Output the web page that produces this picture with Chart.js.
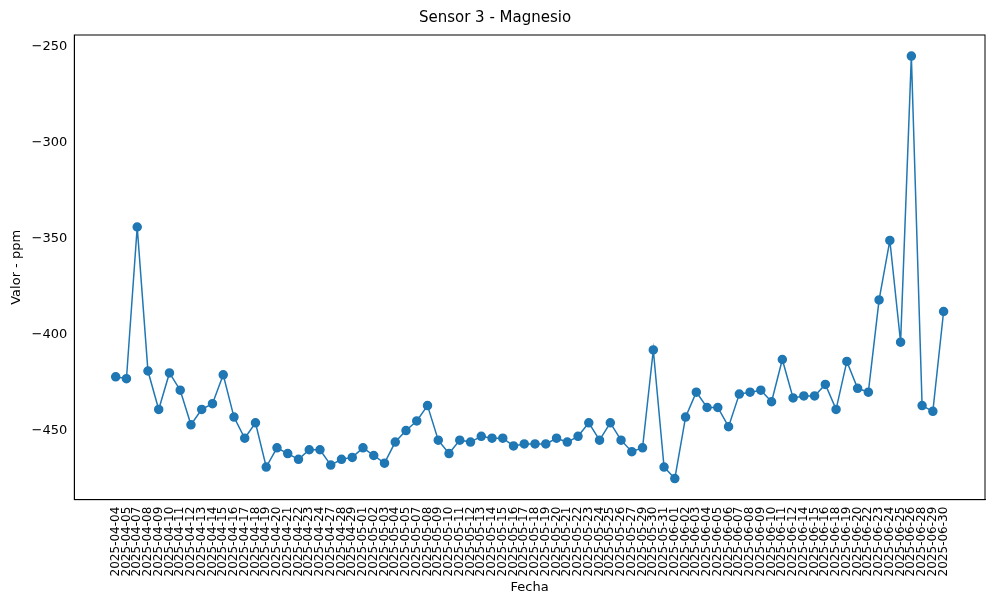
<!DOCTYPE html>
<html>
<head>
<meta charset="utf-8">
<script src="https://cdn.jsdelivr.net/npm/chart.js@4"></script>
<style>
  html, body { margin: 0; padding: 0; background: #fff; }
  #wrap { width: 1000px; height: 600px; }
</style>
</head>
<body>
<div id="wrap"><canvas id="chart" width="1000" height="600"></canvas></div>
<script>
// Data
const fechas = [
    '2025-04-04','2025-04-05','2025-04-07','2025-04-08','2025-04-09','2025-04-10','2025-04-11','2025-04-12',
    '2025-04-13','2025-04-14','2025-04-15','2025-04-16','2025-04-17','2025-04-18','2025-04-19','2025-04-20',
    '2025-04-21','2025-04-22','2025-04-23','2025-04-24','2025-04-27','2025-04-28','2025-04-29',
    '2025-05-01','2025-05-02','2025-05-03','2025-05-04','2025-05-05','2025-05-07','2025-05-08','2025-05-09',
    '2025-05-10','2025-05-11','2025-05-12','2025-05-13','2025-05-14','2025-05-15','2025-05-16','2025-05-17',
    '2025-05-18','2025-05-19','2025-05-20','2025-05-21','2025-05-22','2025-05-23','2025-05-24','2025-05-25',
    '2025-05-26','2025-05-27','2025-05-29','2025-05-30','2025-05-31','2025-06-01','2025-06-02','2025-06-03',
    '2025-06-04','2025-06-05','2025-06-06','2025-06-07','2025-06-08','2025-06-09','2025-06-10','2025-06-11',
    '2025-06-12','2025-06-14','2025-06-15','2025-06-16','2025-06-18','2025-06-19','2025-06-20','2025-06-22',
    '2025-06-23','2025-06-24','2025-06-25','2025-06-26','2025-06-28','2025-06-29','2025-06-30'
];
const valores = [
    -422, -423, -344, -419, -439, -420, -429, -447, -439, -436, -421, -443, -454, -446, -469, -459,
    -462, -465, -460, -460, -468, -465, -464, -459, -463, -467, -456, -450, -445, -437, -455, -462,
    -455, -456, -453, -454, -454, -458, -457, -457, -457, -454, -456, -453, -446, -455, -446, -455,
    -461, -459, -408, -469, -475, -443, -430, -438, -438, -448, -431, -430, -429, -435, -413, -433,
    -432, -432, -426, -439, -414, -428, -430, -382, -351, -404, -255, -437, -440, -388
];
const yTicks = [-250, -300, -350, -400, -450];

const blue = '#1f77b4';
Chart.defaults.font = { family: 'DejaVu Sans', size: 12 };
Chart.defaults.color = '#000';

const n = valores.length;
const pad = (n - 1) * 0.05;

new Chart(document.getElementById('chart'), {
    type: 'line',
    data: {
        datasets: [{
            data: valores.map((v, i) => ({ x: i, y: v })),
            borderColor: blue,
            backgroundColor: blue,
            borderWidth: 1.5,
            pointRadius: 4,
            pointHoverRadius: 4,
            tension: 0
        }]
    },
    options: {
        responsive: false,
        animation: false,
        layout: { padding: { left: 5, right: 15, top: 5, bottom: 5 } },
        plugins: {
            legend: { display: false },
            title: { display: true, text: 'Sensor 3 - Magnesio', font: { family: 'DejaVu Sans', size: 15, weight: 'normal' }, padding: { top: 4, bottom: 8 } },
            tooltip: { enabled: false }
        },
        scales: {
            x: {
                type: 'linear',
                min: -pad, max: n - 1 + pad,
                grid: { display: false, drawTicks: true, tickLength: 4, tickColor: '#000' },
                border: { color: '#000' },
                afterBuildTicks: axis => { axis.ticks = fechas.map((f, i) => ({ value: i })); },
                ticks: { autoSkip: false, maxRotation: 90, minRotation: 90, callback: v => fechas[v] },
                title: { display: true, text: 'Fecha', padding: 0, font: { size: 13 } }
            },
            y: {
                min: -486, max: -244,
                grid: { display: false, drawTicks: true, tickLength: 4, tickColor: '#000' },
                border: { color: '#000' },
                afterBuildTicks: axis => { axis.ticks = yTicks.map(v => ({ value: v })); },
                ticks: { font: { size: 13 }, callback: v => String(v).replace('-', '\u2212') },
                title: { display: true, text: 'Valor - ppm', font: { size: 13 } }
            }
        }
    },
    plugins: [{
        id: 'frame',
        afterDraw(chart) {
            const { ctx, chartArea: a } = chart;
            ctx.save();
            ctx.strokeStyle = '#000';
            ctx.lineWidth = 1;
            ctx.strokeRect(a.left, a.top, a.right - a.left, a.bottom - a.top);
            ctx.restore();
        }
    }]
});
</script>
</body>
</html>
